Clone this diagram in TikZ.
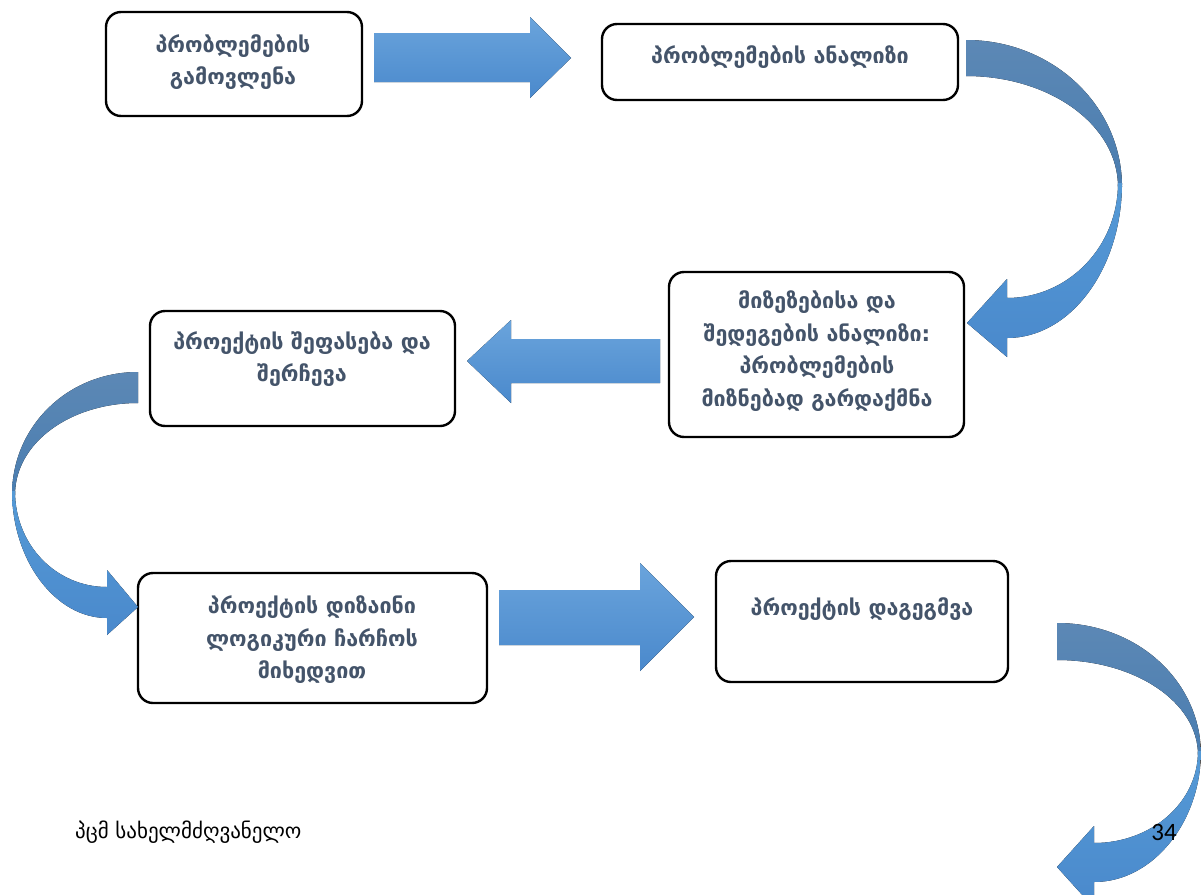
\documentclass[tikz,border=0pt]{standalone}
\usepackage{fontspec}
\newfontfamily\geo{DejaVu Sans}
\newfontfamily\calib{Carlito}
\definecolor{txtc}{HTML}{44546A}
\definecolor{arrT}{HTML}{6AA4DC}
\definecolor{arrB}{HTML}{4A89CC}
\definecolor{backT}{HTML}{5C88B5}
\definecolor{backB}{HTML}{4A7DB0}
\definecolor{frontT}{HTML}{559AD6}
\definecolor{frontB}{HTML}{4A89CC}
\tikzset{
  boxnode/.style={draw=black, line width=2.4pt, rounded corners=15pt, fill=white, inner sep=0pt},
  boxtext/.style={text=txtc, font=\geo\bfseries\fontsize{21.5}{32.5}\selectfont, align=center, inner sep=0pt},
  straightarr/.style={top color=arrT, bottom color=arrB, draw=none},
  backband/.style={top color=backT, bottom color=backB, draw=none},
  frontband/.style={top color=frontT, bottom color=frontB, draw=none},
}
\begin{document}
\begin{tikzpicture}[x=1pt,y=-1pt]
\useasboundingbox (0,0) rectangle (1201,894);
\clip (0,0) rectangle (1201,894);

% boxes
\node[boxnode, minimum width=256pt, minimum height=104pt] (b1) at (234,64) {};
\node[boxnode, minimum width=356pt, minimum height=76pt] (b2) at (780,62) {};
\node[boxnode, minimum width=295pt, minimum height=165pt] (b3) at (816.5,354.5) {};
\node[boxnode, minimum width=305pt, minimum height=115pt] (b4) at (302.5,368.5) {};
\node[boxnode, minimum width=349pt, minimum height=130pt] (b5) at (312.5,638) {};
\node[boxnode, minimum width=292pt, minimum height=121pt] (b6) at (862,621.5) {};

% texts
\node[boxtext] (t1) at (233,62) {პრობლემების\\გამოვლენა};
\node[boxtext] (t2) at (780,57) {პრობლემების ანალიზი};
\node[boxtext] (t3) at (817,351) {მიზეზებისა და\\შედეგების ანალიზი:\\პრობლემების\\მიზნებად გარდაქმნა};
\node[boxtext] (t4) at (302,359) {პროექტის შეფასება და\\შერჩევა};
\node[boxtext] (t5) at (312,640) {პროექტის დიზაინი\\ლოგიკური ჩარჩოს\\მიხედვით};
\node[boxtext] (t6) at (862,609) {პროექტის დაგეგმვა};

% straight arrows
\fill[straightarr] (374,33) -- (530,33) -- (530,17) -- (571,58) -- (530,98) -- (530,82) -- (374,82) -- cycle;
\fill[straightarr] (499,590) -- (640,590) -- (640,563) -- (694,617) -- (640,671) -- (640,645) -- (499,645) -- cycle;
\fill[straightarr] (660,339) -- (511,339) -- (511,320) -- (467,361) -- (511,403) -- (511,383) -- (660,383) -- cycle;

% curved arrow 1 (top right)
\fill[backband] (966,40) .. controls (1052,40) and (1122,105) .. (1122,187)
  -- (1118,187) .. controls (1118,125) and (1050,76) .. (966,76) -- cycle;
\fill[frontband] (1122,183) .. controls (1122,268) and (1071,338) .. (1007,338)
  -- (1007,357) -- (967,323) -- (1007,279) -- (1007,298)
  .. controls (1068,298) and (1118,247) .. (1118,183) -- cycle;

% curved arrow 2 (left)
\fill[backband] (138,372) .. controls (68,372) and (12,426) .. (12,495)
  -- (15,495) .. controls (15,443) and (70,403) .. (138,403) -- cycle;
\fill[frontband] (12,491) .. controls (12,560) and (55,618) .. (107,618)
  -- (107,635) -- (138,607) -- (107,570) -- (107,587)
  .. controls (56,587) and (15,545) .. (15,491) -- cycle;

% curved arrow 3 (bottom right)
\fill[backband] (1057,623) .. controls (1137,623) and (1201,681) .. (1201,755)
  -- (1198,755) .. controls (1198,702) and (1135,660) .. (1057,660) -- cycle;
\fill[frontband] (1201,751) .. controls (1201,822) and (1153,882) .. (1094,882)
  -- (1094,908) -- (1057,867) -- (1094,826) -- (1094,843)
  .. controls (1151,843) and (1198,803) .. (1198,751) -- cycle;

% footer
\node[anchor=base west, inner sep=0pt, font=\geo\fontsize{21}{24}\selectfont] (foot) at (75,838) {პცმ სახელმძღვანელო};
\node[anchor=base east, inner sep=0pt, font=\calib\fontsize{25}{28}\selectfont] (pg) at (1177,840) {34};
\end{tikzpicture}
\end{document}
